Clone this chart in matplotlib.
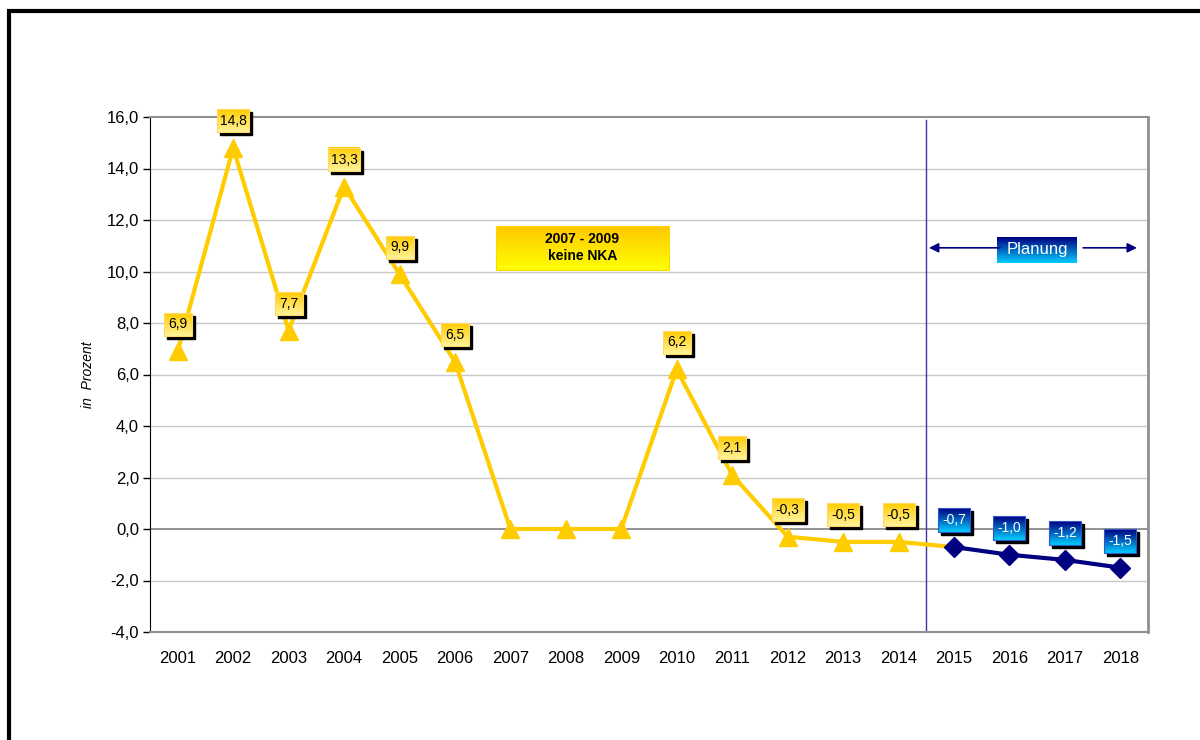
import numpy as np
import matplotlib.pyplot as plt
from matplotlib.colors import LinearSegmentedColormap
from matplotlib.patches import Rectangle

plt.rcParams['font.family'] = ['Liberation Sans', 'DejaVu Sans']

# data
years = ['2001', '2002', '2003', '2004', '2005', '2006', '2007', '2008', '2009',
         '2010', '2011', '2012', '2013', '2014', '2015', '2016', '2017', '2018']
ist = [6.9, 14.8, 7.7, 13.3, 9.9, 6.5, 0.0, 0.0, 0.0, 6.2, 2.1, -0.3, -0.5, -0.5]
plan = [-0.7, -1.0, -1.2, -1.5]
ist_labels = ['6,9', '14,8', '7,7', '13,3', '9,9', '6,5', None, None, None,
              '6,2', '2,1', '-0,3', '-0,5', '-0,5']
plan_labels = ['-0,7', '-1,0', '-1,2', '-1,5']
y_ticks = [-4, -2, 0, 2, 4, 6, 8, 10, 12, 14, 16]

YELLOW = '#FFCC00'
NAVY = '#000080'

fig = plt.figure(figsize=(12, 7.4), dpi=100)
ax = fig.add_axes([150 / 1200, 1 - 632 / 740, 998 / 1200, 515 / 740])

xmin, xmax, ymin, ymax = -0.5, 17.5, -4, 16
px_x = 998 / (xmax - xmin)   # pixels per x unit
px_y = 515 / (ymax - ymin)   # pixels per y unit


def grad_box(xc, yc, w, h, c_top, c_bot, z, edge=None):
    # gradient rectangle, centre in data coords, size in pixels
    x0, x1 = xc - w / 2 / px_x, xc + w / 2 / px_x
    y0, y1 = yc - h / 2 / px_y, yc + h / 2 / px_y
    cmap = LinearSegmentedColormap.from_list('g', [c_top, c_bot])
    im = ax.imshow(np.linspace(0, 1, 64).reshape(-1, 1), cmap=cmap, aspect='auto',
                   extent=(x0, x1, y0, y1), origin='upper', zorder=z, interpolation='bilinear')
    im.set_clip_on(False)
    if edge:
        ax.add_patch(Rectangle((x0, y0), x1 - x0, y1 - y0, fill=False, ec=edge, lw=0.8,
                               zorder=z + 0.1, clip_on=False))


def shadow(xc, yc, w, h):
    ax.add_patch(Rectangle((xc - w / 2 / px_x + 3 / px_x, yc - h / 2 / px_y - 3 / px_y),
                           w / px_x, h / px_y, color='black', zorder=6, clip_on=False))


x_all = np.arange(len(years))

# grid and zero line
for v in y_ticks:
    if v in (-4, 0, 16):
        continue
    ax.axhline(v, color='#C8C8C8', lw=1, zorder=1)
ax.axhline(0, color='#808080', lw=1.2, zorder=1)

# lines
ax.plot(x_all[:15], ist + [plan[0]], color=YELLOW, lw=3, zorder=3)
ax.plot(x_all[:14], ist, ls='none', marker='^', ms=13, color=YELLOW, zorder=4)
ax.plot(x_all[14:], plan, color=NAVY, lw=3, marker='D', ms=10, zorder=5)

# data labels with shadow
for i, (v, lab) in enumerate(zip(ist, ist_labels)):
    if lab is None:
        continue
    yc = v + 27 / px_y
    w = 32 if len(lab) > 3 else 28
    shadow(i, yc, w, 23)
    grad_box(i, yc, w, 23, '#FFCC00', '#FFF39A', 7, edge='#FFD966')
    ax.text(i, yc, lab, ha='center', va='center', fontsize=10, color='black', zorder=8)

for j, (v, lab) in enumerate(zip(plan, plan_labels)):
    i = 14 + j
    yc = v + 27 / px_y
    shadow(i, yc, 32, 24)
    grad_box(i, yc, 32, 24, '#000080', '#00CCFF', 7, edge='#3355CC')
    ax.text(i, yc, lab, ha='center', va='center', fontsize=10, color='white', zorder=8)

# 2007 - 2009 note
grad_box(7.3, 10.92, 173, 44, '#FFC800', '#FFFF00', 6, edge='#FFD700')
ax.text(7.3, 10.92, '2007 - 2009\nkeine NKA', ha='center', va='center', fontsize=10,
        fontweight='bold', linespacing=1.3, zorder=8)

# planning divider and arrows
ax.axvline(13.5, ymin=0, ymax=(ymax - 0.1 - ymin) / (ymax - ymin), color='#3A3A9A', lw=1, zorder=2)
grad_box(15.5, 10.84, 80, 26, '#000080', '#00CCFF', 6)
ax.text(15.5, 10.84, 'Planung', ha='center', va='center', fontsize=12, color='white', zorder=8)
arrow = dict(arrowstyle='-|>', color=NAVY, lw=1.2, mutation_scale=14, shrinkA=0, shrinkB=0)
ax.annotate('', xy=(13.55, 10.92), xytext=(14.83, 10.92), arrowprops=arrow, zorder=8)
ax.annotate('', xy=(17.3, 10.92), xytext=(16.33, 10.92), arrowprops=arrow, zorder=8)

# axes styling
ax.set_xlim(xmin, xmax)
ax.set_ylim(ymin, ymax)
ax.set_xticks(x_all)
ax.set_xticklabels(years)
ax.set_yticks(y_ticks)
ax.set_yticklabels([f'{v:.1f}'.replace('.', ',') for v in y_ticks])
ax.tick_params(axis='x', length=0, pad=14, labelsize=12)
ax.tick_params(axis='y', length=5, width=1, direction='out', pad=3, labelsize=12)
ax.spines['left'].set_color('black')
for s in ('top', 'right', 'bottom'):
    ax.spines[s].set_color('#909090')
ax.spines['right'].set_linewidth(2)
ax.spines['top'].set_linewidth(1.5)
ax.spines['bottom'].set_linewidth(1.5)
ax.set_ylabel('in  Prozent', fontstyle='italic', fontsize=10, labelpad=8)

# outer frame
fig.add_artist(Rectangle((9 / 1200, -0.1), 1.2, 1 - 11 / 740 + 0.1, transform=fig.transFigure,
                         fill=False, ec='black', lw=3))

fig.savefig('out.png', dpi=100)
